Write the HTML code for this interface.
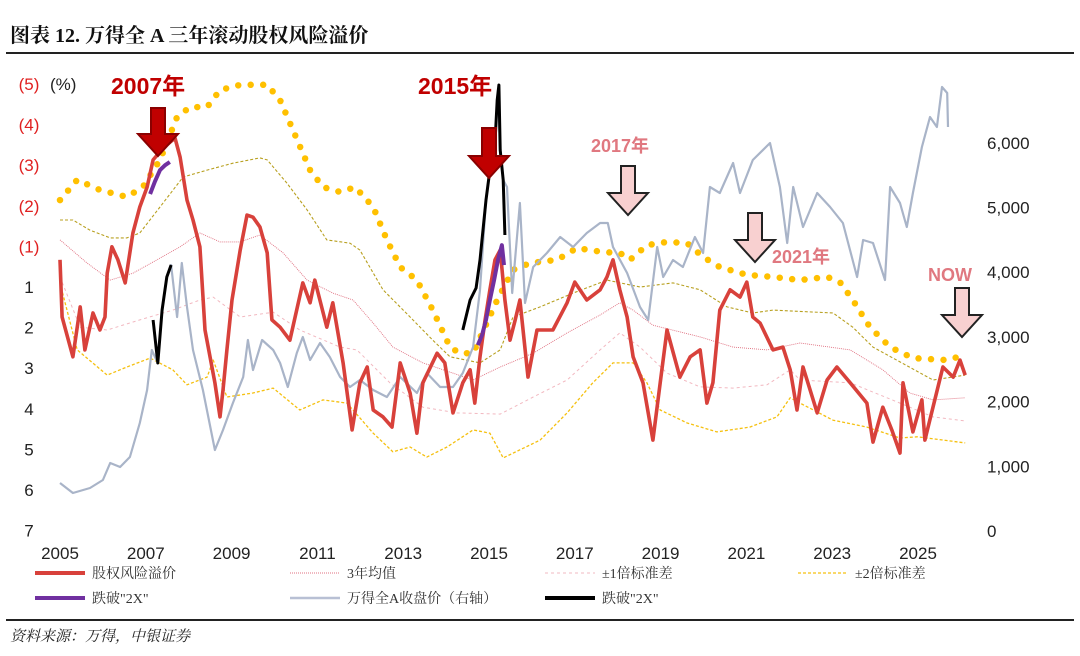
<!DOCTYPE html>
<html><head><meta charset="utf-8">
<style>
html,body{margin:0;padding:0;background:#fff;}
svg{display:block;}
.ax{font-family:"Liberation Sans","DejaVu Sans",sans-serif;font-size:17px;fill:#222;}
.lg{font-family:"Liberation Serif","Noto Serif CJK SC",serif;font-size:14px;fill:#333;}
</style></head>
<body>
<svg id="chart" width="1080" height="656" viewBox="0 0 1080 656" xmlns="http://www.w3.org/2000/svg">
<text x="10" y="42" font-family="'Liberation Serif','Noto Serif CJK SC',serif" font-size="20" font-weight="bold" fill="#111">图表 12. 万得全 A 三年滚动股权风险溢价</text>
<rect x="6" y="52" width="1068" height="2" fill="#222"/>
<rect x="6" y="619" width="1068" height="2" fill="#222"/>
<text x="10" y="641" font-family="'Liberation Serif','Noto Serif CJK SC',serif" font-size="15" font-style="italic" fill="#222">资料来源：万得，中银证券</text>
<g id="plot"></g>
<g id="annot"></g>
<g id="legend"></g>
</svg>
<script>
// ---- data ----
const xTickLabels = ["2005","2007","2009","2011","2013","2015","2017","2019","2021","2023","2025"];
const xTickYears = [2005,2007,2009,2011,2013,2015,2017,2019,2021,2023,2025];
const leftTickLabels = ["(5)","(4)","(3)","(2)","(1)","1","2","3","4","5","6","7"];
const leftTickValues = [-5,-4,-3,-2,-1,0,1,2,3,4,5,6];
const rightTickValues = [0,1000,2000,3000,4000,5000,6000];
const rightTickLabels = ["0","1,000","2,000","3,000","4,000","5,000","6,000"];

const erpYears = [2005.00,2005.05,2005.30,2005.47,2005.58,2005.77,2005.93,2006.05,2006.10,2006.21,2006.35,2006.52,2006.70,2006.86,2007.03,2007.17,2007.40,2007.68,2007.80,2007.96,2008.10,2008.26,2008.38,2008.61,2008.73,2008.80,2008.89,2009.01,2009.20,2009.36,2009.50,2009.66,2009.83,2009.94,2010.13,2010.36,2010.66,2010.83,2010.94,2011.22,2011.36,2011.60,2011.81,2011.99,2012.16,2012.30,2012.53,2012.74,2012.93,2013.16,2013.32,2013.46,2013.79,2013.97,2014.16,2014.39,2014.56,2014.67,2014.79,2014.91,2015.02,2015.14,2015.26,2015.37,2015.49,2015.61,2015.72,2015.91,2016.12,2016.49,2016.82,2017.00,2017.28,2017.59,2017.75,2017.89,2018.05,2018.22,2018.36,2018.59,2018.82,2018.99,2019.15,2019.45,2019.69,2019.92,2020.08,2020.22,2020.38,2020.62,2020.85,2021.01,2021.15,2021.32,2021.62,2021.85,2022.02,2022.18,2022.32,2022.65,2022.88,2023.11,2023.42,2023.81,2023.95,2024.18,2024.39,2024.58,2024.65,2024.88,2025.09,2025.16,2025.35,2025.58,2025.82,2025.98,2026.10];
const erpValues = [-0.67,0.74,1.72,0.49,1.55,0.64,1.06,0.74,-0.34,-0.99,-0.67,-0.10,-1.33,-1.97,-2.46,-3.13,-3.42,-3.67,-3.20,-2.14,-1.65,-0.99,1.06,2.36,3.20,2.54,1.55,0.32,-0.91,-1.77,-1.72,-1.48,-0.84,0.81,0.99,1.31,-0.10,0.39,-0.17,0.99,0.39,1.87,3.52,2.36,1.97,3.03,3.20,3.45,1.87,2.61,3.60,2.36,1.63,1.87,3.10,2.36,2.04,2.86,1.72,0.81,0.07,-0.67,-0.91,0.32,1.31,0.81,0.32,2.22,1.06,1.06,0.39,-0.12,0.32,0.07,-0.25,-0.67,0.07,0.74,1.72,2.36,3.77,2.36,1.06,2.22,1.72,1.55,2.86,2.36,0.57,0.07,0.25,-0.12,0.74,0.89,1.55,1.48,2.04,3.03,1.97,3.10,2.29,1.97,2.36,2.86,3.82,2.96,3.52,4.09,2.36,3.57,2.78,3.77,2.96,1.97,2.22,1.80,2.17];

const brk07Years = [2007.10,2007.21,2007.33,2007.45,2007.56];
const brk07Values = [-2.29,-2.59,-2.88,-3.00,-3.08];
const brk15Years = [2014.74,2014.84,2014.93,2015.02,2015.12,2015.21,2015.30,2015.35];
const brk15Values = [1.43,1.18,0.81,0.32,-0.17,-0.67,-1.03,-0.54];

const idxYears = [2005.00,2005.30,2005.70,2006.00,2006.17,2006.40,2006.63,2006.86,2007.03,2007.14,2007.28,2007.38,2007.49,2007.59,2007.73,2007.84,2007.96,2008.10,2008.33,2008.61,2008.80,2009.03,2009.27,2009.38,2009.50,2009.71,2009.97,2010.13,2010.31,2010.52,2010.66,2010.83,2011.06,2011.29,2011.53,2011.76,2011.99,2012.30,2012.62,2012.93,2013.32,2013.55,2013.86,2014.16,2014.39,2014.63,2014.79,2014.93,2015.02,2015.12,2015.21,2015.26,2015.33,2015.42,2015.54,2015.72,2015.84,2016.03,2016.35,2016.66,2016.96,2017.28,2017.59,2017.77,2017.89,2018.22,2018.52,2018.71,2018.92,2019.06,2019.29,2019.52,2019.80,2019.99,2020.15,2020.38,2020.69,2020.85,2021.15,2021.55,2021.78,2021.95,2022.09,2022.32,2022.65,2022.95,2023.25,2023.58,2023.72,2023.95,2024.23,2024.35,2024.58,2024.74,2024.88,2025.09,2025.28,2025.44,2025.56,2025.68,2025.70];
const idxValues = [742,587,665,788,1051,989,1144,1669,2179,2797,2597,3416,3926,4111,3308,4142,3462,2797,2179,1252,1561,1978,2380,2952,2488,2952,2797,2597,2226,2751,2998,2643,2906,2689,2380,2226,2334,2179,2071,2380,2133,2442,2226,2226,2442,2844,3725,5116,5580,5734,6816,5889,5425,5317,3679,5070,3524,4080,4297,4544,4389,4606,4760,4760,4389,3988,3462,3261,4389,3926,4189,4080,4544,4297,5317,5224,5688,5224,5734,5997,5317,4451,5317,4699,5224,5008,4760,3926,4498,4451,3879,5317,5070,4699,5224,5935,6399,6244,6862,6770,6244];

const blk07Years = [2007.17,2007.28,2007.38,2007.49,2007.59];
const blk07Values = [3261,2597,3416,3926,4111];
const blk15Years = [2014.39,2014.56,2014.70,2014.79,2014.93,2015.02,2015.12,2015.19,2015.23,2015.26,2015.33,2015.37];
const blk15Values = [3107,3570,3756,4189,5116,5580,5734,6662,6893,5889,5425,4575];

const up2Years = [2005.00,2005.40,2005.93,2006.56,2006.93,2007.33,2007.73,2008.03,2008.43,2008.73,2009.20,2009.83,2010.13,2010.43,2010.83,2011.13,2011.53,2011.88,2012.30,2012.62,2012.93,2013.32,2013.69,2014.09,2014.32,2014.63,2015.19,2015.56,2015.96,2016.59,2017.05,2017.66,2018.05,2018.29,2018.68,2019.15,2019.62,2019.99,2020.38,2021.01,2021.62,2022.25,2022.88,2023.18,2023.48,2023.88,2024.35,2024.88,2025.68,2026.10];
const up2Values = [-2.14,-2.64,-2.39,-2.22,-2.46,-3.13,-4.19,-4.43,-4.43,-4.85,-4.98,-4.98,-4.60,-3.87,-2.88,-2.46,-2.34,-2.46,-1.97,-1.16,-0.49,-0.17,0.57,1.48,1.63,1.63,0.32,-0.42,-0.59,-0.67,-0.96,-0.86,-0.84,-0.67,-1.03,-1.11,-1.08,-0.74,-0.49,-0.30,-0.25,-0.17,-0.25,-0.12,0.32,0.99,1.48,1.75,1.80,1.67];

const up1Years = [2005.00,2005.30,2005.70,2006.17,2006.56,2006.86,2007.33,2007.87,2008.43,2009.03,2009.66,2009.83,2010.29,2010.76,2011.22,2011.76,2011.99,2012.53,2013.16,2013.69,2014.09,2014.79,2015.26,2015.56,2016.19,2016.96,2017.75,2018.52,2019.29,2019.92,2020.55,2021.15,2021.62,2023.02,2023.48,2023.95,2025.35,2026.10];
const up1Values = [-1.65,-1.65,-1.40,-1.21,-1.21,-1.33,-1.97,-2.71,-2.88,-3.05,-3.18,-3.13,-2.56,-1.90,-1.16,-1.08,-0.91,0.07,0.74,1.31,1.72,1.87,1.55,0.74,0.49,0.15,-0.17,0.00,-0.10,0.07,0.49,0.64,0.57,0.64,0.99,1.48,2.29,2.17];

const meanYears = [2005.00,2005.63,2006.17,2006.70,2007.26,2007.80,2008.26,2008.73,2009.20,2009.66,2010.20,2010.76,2011.36,2011.83,2012.30,2012.76,2013.46,2014.63,2015.26,2016.03,2016.82,2017.59,2018.05,2018.36,2018.82,2019.92,2020.69,2021.48,2022.25,2023.42,2024.18,2024.81,2025.35,2026.10];
const meanValues = [-1.16,-0.59,-0.17,-0.34,-0.67,-0.99,-1.33,-1.11,-1.11,-1.28,-0.84,-0.17,0.15,0.32,0.89,1.48,1.87,2.29,1.97,1.63,1.13,0.69,0.39,0.57,0.94,1.23,1.48,1.55,1.38,1.55,2.04,2.61,2.78,2.73];

const dn1Years = [2005.00,2005.47,2006.10,2006.86,2007.63,2008.26,2008.57,2009.20,2009.97,2010.59,2011.53,2011.92,2012.69,2013.46,2014.25,2015.26,2016.03,2016.82,2017.59,2018.05,2018.52,2019.15,2019.92,2020.69,2021.48,2022.02,2022.25,2023.42,2024.58,2025.35,2026.10];
const dn1Values = [-0.25,0.99,1.06,0.81,0.57,0.32,0.25,0.74,0.62,1.06,1.48,1.55,2.36,2.96,3.10,3.13,2.71,2.29,1.55,1.13,1.48,2.12,2.46,2.49,2.41,2.04,2.29,2.36,2.86,3.20,3.30];

const dn2Years = [2005.00,2005.40,2006.10,2006.56,2007.10,2007.63,2007.96,2008.43,2008.57,2008.89,2009.50,2009.97,2010.59,2011.13,2011.69,2012.30,2012.76,2013.16,2013.55,2014.02,2014.63,2015.02,2015.33,2016.19,2016.82,2017.42,2017.89,2018.36,2018.68,2018.99,2019.62,2020.31,2021.08,2021.71,2022.02,2022.25,2023.02,2023.81,2024.58,2024.98,2026.10];
const dn2Values = [-0.10,1.55,2.17,1.97,1.75,2.04,2.41,2.22,1.80,2.71,2.61,2.49,3.03,2.78,2.86,3.60,4.06,3.94,4.19,3.94,3.52,3.60,4.21,3.77,3.10,2.36,1.87,1.87,2.36,3.03,3.35,3.57,3.45,3.20,2.73,2.86,3.28,3.45,3.72,3.69,3.84];

// ---- axes ----
const NS = "http://www.w3.org/2000/svg";
function xS(yr){ return 60 + (yr - 2005) * 42.9; }
function yL(v){ return 287 + v * 40.6; }
function yR(v){ return 531 - v * 0.0647; }
const plot = document.getElementById('plot');
function mk(tag, attrs, parent){ const e = document.createElementNS(NS, tag); for (const k in attrs) e.setAttribute(k, attrs[k]); (parent||plot).appendChild(e); return e; }
function pts(xs, vs, yf){ return xs.map((x,i)=> xS(x).toFixed(1)+','+yf(vs[i]).toFixed(1)).join(' '); }

xTickYears.forEach((yr,i)=>{
  const t = mk('text',{x:xS(yr),y:559,'text-anchor':'middle',class:'ax'});
  t.textContent = xTickLabels[i];
  
  
});
leftTickValues.forEach((v,i)=>{
  const red = leftTickLabels[i].startsWith('(');
  const t = mk('text',{x:29,y:yL(v)+6,'text-anchor':'middle',class:'ax',style:'fill:'+(red?'#e02020':'#222')});
  t.textContent = leftTickLabels[i];
  
  
});
const pct = mk('text',{x:50,y:90,class:'ax'}); pct.textContent='(%)';


rightTickValues.forEach((v,i)=>{
  const t = mk('text',{x:987,y:yR(v)+6,class:'ax'});
  t.textContent = rightTickLabels[i];
  
  
});

function line(xs, vs, yf, style, name){
  const p = mk('polyline', Object.assign({points:pts(xs,vs,yf), fill:'none','stroke-linejoin':'round'}, style));
  
  
  return p;
}
line(dn2Years, dn2Values, yL, {stroke:'#f5c010','stroke-width':1.3,'stroke-dasharray':'3 2'}, 'minus-2sd-line');
line(dn1Years, dn1Values, yL, {stroke:'#f2b8c0','stroke-width':1,'stroke-dasharray':'3 3'}, 'minus-1sd-line');
line(meanYears, meanValues, yL, {stroke:'#e07080','stroke-width':0.9,'stroke-dasharray':'1 1'}, 'three-year-mean-line');
line(up1Years, up1Values, yL, {stroke:'#b8a020','stroke-width':1.1,'stroke-dasharray':'3 2'}, 'plus-1sd-line');
line(up2Years, up2Values, yL, {stroke:'#ffc000','stroke-width':6.5,'stroke-dasharray':'0 12.5','stroke-linecap':'round'}, 'plus-2sd-line');
line(idxYears, idxValues, yR, {stroke:'#a9b4c8','stroke-width':2.2}, 'wind-a-index-line');
line(erpYears, erpValues, yL, {stroke:'#d8413b','stroke-width':3.6}, 'erp-line');
line(brk07Years, brk07Values, yL, {stroke:'#7030a0','stroke-width':4}, 'erp-break-2007');
line(brk15Years, brk15Values, yL, {stroke:'#7030a0','stroke-width':4}, 'erp-break-2015');
line(blk07Years, blk07Values, yR, {stroke:'#000','stroke-width':3}, 'index-break-2007');
line(blk15Years, blk15Values, yR, {stroke:'#000','stroke-width':3}, 'index-break-2015');

// ---- annotations ----
const an = document.getElementById('annot');
function arrow(cx, y1, y2, fill, stroke, name){
  const sw=7, hw=20, hh=22;
  const d = `M${cx-sw},${y1} L${cx+sw},${y1} L${cx+sw},${y2-hh} L${cx+hw},${y2-hh} L${cx},${y2} L${cx-hw},${y2-hh} L${cx-sw},${y2-hh} Z`;
  const p = mk('path',{d:d,fill:fill,stroke:stroke,'stroke-width':2}, an);
  
  
}
function label(x,y,txt,color,size,name){
  const t = mk('text',{x:x,y:y,fill:color,'font-size':size,'font-weight':'bold','font-family':'"Liberation Sans","Noto Sans CJK SC",sans-serif'}, an);
  t.textContent = txt;
  
  
}
label(111,94,'2007年','#c00000',23,'label-2007');
arrow(158,108,156,'#c00000','#8a0000','arrow-2007');
label(418,94,'2015年','#c00000',23,'label-2015');
arrow(489,128,178,'#c00000','#8a0000','arrow-2015');
label(591,152,'2017年','#e07880',18,'label-2017');
arrow(628,166,215,'#f8d0d0','#222','arrow-2017');
arrow(755,213,262,'#f8d0d0','#222','arrow-2021');
label(772,263,'2021年','#e07880',18,'label-2021');
label(928,281,'NOW','#e07880',18,'label-now');
arrow(962,288,337,'#f8d0d0','#222','arrow-now');

// ---- legend ----
const lg = document.getElementById('legend');
const legendItems = [
  {x:35,y:578,t:'股权风险溢价',s:{stroke:'#d8413b','stroke-width':4},n:'legend-erp'},
  {x:290,y:578,t:'3年均值',s:{stroke:'#e07080','stroke-width':1,'stroke-dasharray':'1 1'},n:'legend-mean'},
  {x:545,y:578,t:'±1倍标准差',s:{stroke:'#f2b8c0','stroke-width':1,'stroke-dasharray':'3 3'},n:'legend-1sd'},
  {x:798,y:578,t:'±2倍标准差',s:{stroke:'#f5c010','stroke-width':1.3,'stroke-dasharray':'3 2'},n:'legend-2sd'},
  {x:35,y:603,t:'跌破"2X"',s:{stroke:'#7030a0','stroke-width':4},n:'legend-break-erp'},
  {x:290,y:603,t:'万得全A收盘价（右轴）',s:{stroke:'#b8c0d4','stroke-width':2.5},n:'legend-index'},
  {x:545,y:603,t:'跌破"2X"',s:{stroke:'#000','stroke-width':4},n:'legend-break-index'}
];
legendItems.forEach(it=>{
  const l = mk('line', Object.assign({x1:it.x,y1:it.y-5,x2:it.x+50,y2:it.y-5}, it.s), lg);
  
  
  const t = mk('text',{x:it.x+57,y:it.y,class:'lg'}, lg);
  t.textContent = it.t;
  
  
});
</script>
</body></html>
